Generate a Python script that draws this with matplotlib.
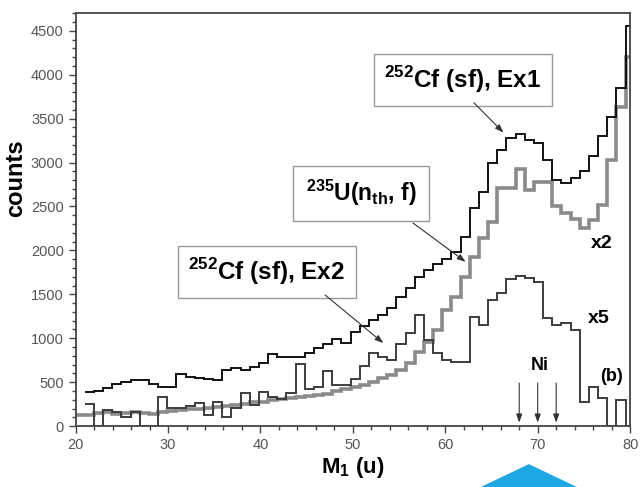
import numpy as np
import matplotlib
matplotlib.use("Agg")
import matplotlib.pyplot as plt
from matplotlib.patches import Polygon
from matplotlib.ticker import MultipleLocator

plt.rcParams["font.family"] = ["Liberation Sans", "DejaVu Sans"]
plt.rcParams["mathtext.fontset"] = "custom"
plt.rcParams["mathtext.rm"] = "Liberation Sans"
plt.rcParams["mathtext.bf"] = "Liberation Sans:bold"

# fragment mass bins, M1 = 20 ... 80 u
mass_lo, mass_hi = 20, 80.5

# 252Cf(sf), experiment 1 (M1 = 21..80)
cf_ex1 = [390, 405, 430, 478, 500, 525, 520, 478, 444, 450,
          592, 561, 550, 531, 525, 638, 664, 638, 676, 714,
          820, 782, 782, 790, 835, 885, 930, 987, 941, 1075,
          1140, 1210, 1270, 1350, 1470, 1570, 1700, 1780, 1845, 1900,
          1985, 2150, 2480, 2670, 2990, 3140, 3280, 3320, 3260, 3225,
          3030, 2800, 2770, 2820, 2900, 3070, 3300, 3520, 3850, 4550]

# 235U(n_th, f), scaled x2 (M1 = 20..80)
u235_x2 = [125,
           130, 150, 160, 140, 150, 160, 150, 140, 160, 170,
           182, 190, 200, 210, 215, 225, 235, 250, 270, 280,
           295, 305, 315, 330, 340, 355, 370, 400, 420, 440,
           467, 505, 550, 581, 640, 720, 840, 960, 1093, 1321,
           1473, 1701, 1929, 2138, 2327, 2707, 2707, 2930, 2690, 2780,
           2780, 2510, 2430, 2360, 2260, 2350, 2520, 3030, 3630, 4200]

# 252Cf(sf), experiment 2, scaled x5 (M1 = 21..80)
cf_ex2_x5 = [250, 0, 182, 163, 99, 163, 0, 0, 334, 201,
             201, 230, 258, 125, 277, 106, 201, 372, 239, 391,
             334, 304, 372, 706, 418, 441, 630, 467, 470, 540,
             680, 830, 790, 750, 940, 1060, 1270, 980, 830, 750,
             730, 730, 1240, 1150, 1430, 1510, 1680, 1710, 1690, 1640,
             1230, 1150, 1170, 1090, 280, 450, 320, 0, 300, 0]

ni_masses = [68, 70, 72]

edges = np.linspace(mass_lo, mass_hi, len(u235_x2) + 1)

fig = plt.figure(figsize=(6.41, 4.87), dpi=100)
ax = fig.add_axes([0.118, 0.125, 0.865, 0.848])

ax.stairs(u235_x2, edges, baseline=None, color="#8a8a8a", lw=2.6)
ax.stairs(cf_ex2_x5, edges[1:], baseline=None, color="#3c3c3c", lw=1.4)
ax.stairs(cf_ex1, edges[1:], baseline=None, color="#111111", lw=1.4)

ax.set_xlim(20, 80)
ax.set_ylim(0, 4700)
ax.xaxis.set_major_locator(MultipleLocator(10))
ax.xaxis.set_minor_locator(MultipleLocator(2))
ax.yaxis.set_major_locator(MultipleLocator(500))
ax.yaxis.set_minor_locator(MultipleLocator(100))
ax.tick_params(which="both", direction="out", colors="#444444", labelcolor="#555555",
               labelsize=10.5, width=1)
ax.tick_params(which="major", length=5)
ax.tick_params(which="minor", length=3)
for s in ax.spines.values():
    s.set_color("#444444")
    s.set_linewidth(1.3)

ax.set_xlabel(r"M$_{\mathbf{1}}$ (u)", fontsize=16, fontweight="bold", labelpad=2)
ax.set_ylabel("counts", fontsize=17, fontweight="bold")
ax.yaxis.set_label_coords(-0.088, 0.6)

box = dict(boxstyle="square,pad=0.42", fc="white", ec="#999999", lw=1)
arrow = dict(arrowstyle="-|>,head_length=0.5,head_width=0.18", color="#333333",
             lw=0.8, mutation_scale=10, shrinkA=0, shrinkB=0)

ax.text(61.9, 3940, r"$^{\mathbf{252}}$Cf (sf), Ex1", fontsize=17.5, fontweight="bold",
        ha="center", va="center", bbox=box)
ax.annotate("", xy=(66.3, 3340), xytext=(63.1, 3680), arrowprops=arrow)

ax.text(50.9, 2650, r"$^{\mathbf{235}}$U(n$_{\mathbf{th}}$, f)", fontsize=16.5,
        fontweight="bold", ha="center", va="center",
        bbox=dict(box, boxstyle="square,pad=0.55"))
ax.annotate("", xy=(62.2, 1870), xytext=(56.5, 2312), arrowprops=arrow)

ax.text(40.7, 1755, r"$^{\mathbf{252}}$Cf (sf), Ex2", fontsize=17.5, fontweight="bold",
        ha="center", va="center", bbox=box)
ax.annotate("", xy=(53.3, 945), xytext=(47.0, 1492), arrowprops=arrow)

ax.text(76.9, 2080, "x2", fontsize=14, fontweight="bold", ha="center", va="center")
ax.text(76.6, 1230, "x5", fontsize=14, fontweight="bold", ha="center", va="center")
ax.text(78.0, 560, "(b)", fontsize=13, fontweight="bold", ha="center", va="center")
ax.text(70.2, 690, "Ni", fontsize=13, fontweight="bold", ha="center", va="center")
for m in ni_masses:
    ax.annotate("", xy=(m, 40), xytext=(m, 490), arrowprops=arrow)

# blue marker below the axis
fig.patches.append(Polygon([[0.750, 0.0], [0.825, 0.047], [0.900, 0.0]],
                           closed=True, transform=fig.transFigure,
                           facecolor="#1ea7e4", edgecolor="none"))

fig.savefig("out.png", dpi=100)
